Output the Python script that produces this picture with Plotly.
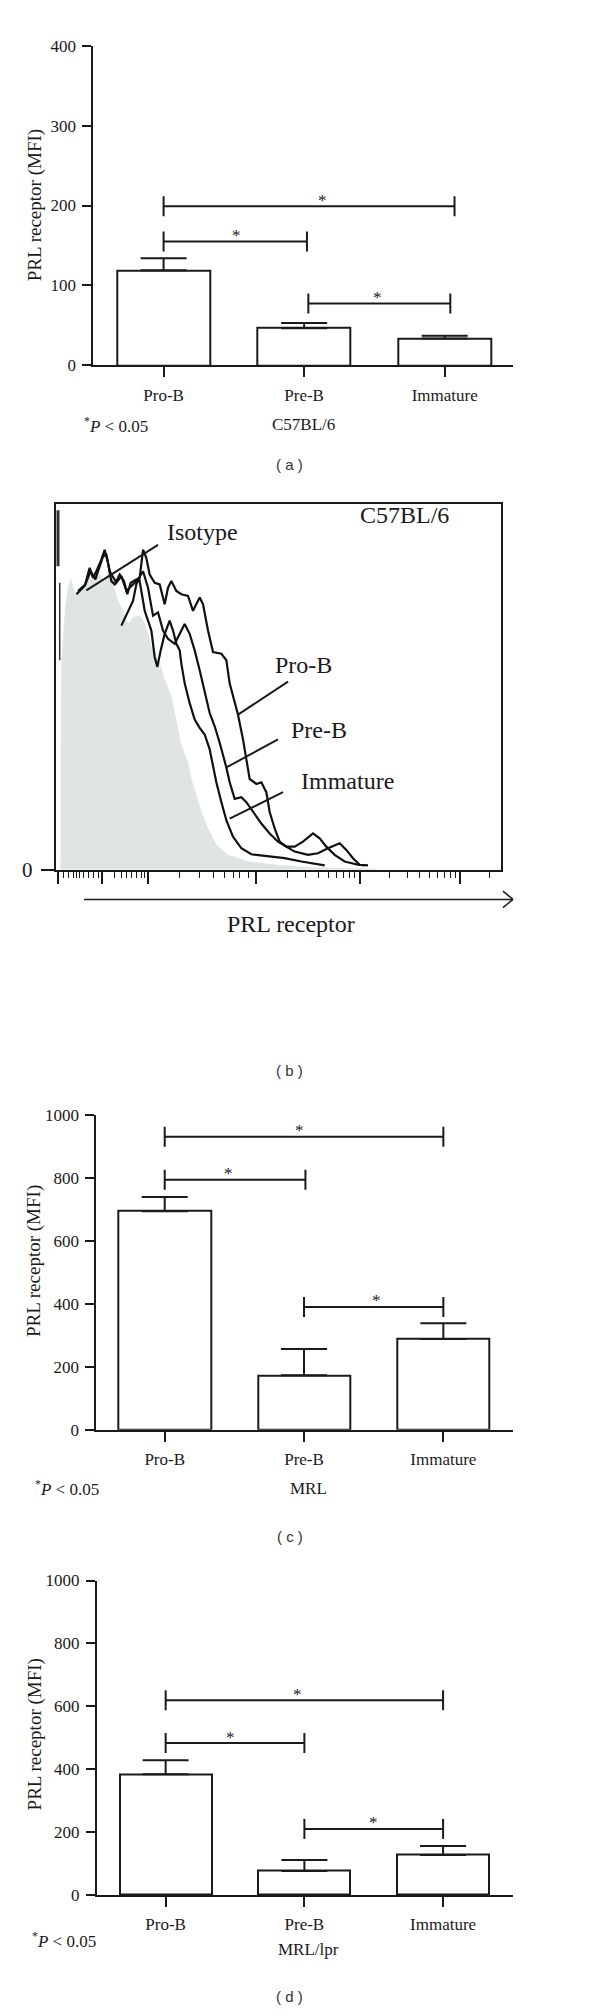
import plotly.graph_objects as go

W, H = 600, 2016
INK = "#1a1a1a"
SERIF = "Liberation Serif"
SANS = "Liberation Sans"

categories = ["Pro-B", "Pre-B", "Immature"]
cat_pos = [0, 1, 2]

# ---------- (a) C57BL/6 ----------
c57_mean = [119, 46.5, 33.5]
c57_err = [15, 6.5, 3.5]
c57_br_start = [0.0, 0.0, 1.03]
c57_br_end = [2.07, 1.02, 2.04]
c57_br_y = [199, 155, 77.5]
c57_star_x = [1.13, 0.52, 1.52]

# ---------- (c) MRL ----------
mrl_mean = [694, 173, 288]
mrl_err = [45, 83.5, 50]
mrl_br_start = [0.0, 0.0, 1.0]
mrl_br_end = [2.0, 1.01, 2.0]
mrl_br_y = [930, 794, 390]
mrl_star_x = [0.97, 0.46, 1.52]

# ---------- (d) MRL/lpr ----------
lpr_mean = [384, 76.5, 127]
lpr_err = [44, 34.5, 29]
lpr_br_start = [0.0, 0.0, 1.0]
lpr_br_end = [2.0, 1.0, 2.0]
lpr_br_y = [619, 483, 210]
lpr_star_x = [0.95, 0.47, 1.50]

# ---------- (b) flow histogram (channel, count) ----------
iso_x = [7, 15, 17, 22, 29, 37, 45, 52, 62, 72, 87, 102, 117, 132, 147, 162, 177, 187, 202,
         217, 232, 247, 257, 267, 277, 287, 312, 327, 347, 357, 367, 377, 397, 407, 422, 437,
         457, 482, 517, 577, 657, 757, 857, 957, 967]
iso_y = [0, 0, 625, 705, 795, 855, 880, 855, 830, 845, 855, 885, 880, 895, 870, 925, 845, 815, 785,
         745, 765, 770, 765, 745, 715, 675, 625, 575, 525, 475, 425, 375, 325, 275, 225, 175,
         125, 75, 45, 25, 15, 7, 5, 3, 0]

prob_x = [62, 87, 102, 112, 122, 137, 147, 157, 167, 177, 192, 205, 215, 225, 242, 252, 262, 272,
          282, 297, 312, 327, 337, 347, 362, 377, 397, 412, 432, 442, 457, 472, 497, 512, 522, 537,
          547, 562, 572, 582, 602, 617, 632, 642, 657, 672, 692, 717, 757, 787, 817, 852, 872, 892,
          912, 937]
prob_y = [835, 860, 915, 885, 905, 940, 970, 930, 875, 865, 895, 875, 835, 870, 880, 885, 970, 945,
          895, 870, 865, 805, 855, 875, 845, 835, 830, 785, 825, 805, 725, 660, 655, 635, 565, 505,
          470, 395, 335, 275, 260, 265, 235, 175, 125, 85, 70, 55, 45, 50, 65, 80, 60, 35,
          15, 13]

preb_x = [67, 89, 105, 119, 142, 152, 162, 182, 197, 212, 232, 247, 262, 277, 292, 307, 322, 337,
          357, 372, 387, 402, 417, 432, 447, 462, 477, 492, 512, 522, 537, 557, 572, 592, 617, 642,
          667, 692, 717, 742, 772, 792, 812, 837, 867, 907, 927]
preb_y = [845, 865, 905, 880, 950, 955, 905, 870, 890, 845, 865, 880, 905, 855, 770, 780, 725, 700,
          685, 715, 745, 715, 665, 605, 535, 475, 435, 385, 310, 265, 215, 220, 205, 175, 140, 110,
          85, 70, 70, 85, 110, 95, 70, 45, 25, 15, 13]

imm_x = [197, 217, 232, 242, 250, 257, 267, 277, 287, 297, 305, 315, 327, 342, 352, 362, 372, 377,
         387, 402, 417, 432, 447, 462, 472, 482, 497, 512, 532, 557, 587, 637, 687, 737, 787, 807]
imm_y = [740, 780, 815, 865, 885, 845, 785, 755, 725, 645, 615, 665, 715, 755, 725, 685, 665, 625,
         565, 505, 455, 430, 410, 365, 315, 265, 205, 150, 100, 65, 47, 40, 35, 25, 15, 13]

edge_x = [7, 7]
edge_y = [1090, 920]
edge2_x = [12, 12]
edge2_y = [870, 635]

hist_major_ticks = [7, 140, 277, 602, 912, 1212]
hist_minor_ticks = [22, 37, 52, 62, 72, 82, 97, 112, 127, 177, 197, 212, 227, 242, 257, 267,
                    372, 432, 472, 507, 532, 552, 577, 695, 750, 789, 819, 843, 864, 882, 898,
                    1002, 1057, 1092, 1122, 1145, 1166, 1184, 1200, 1302]

hist_labels = ["Isotype", "Pro-B", "Pre-B", "Immature"]
hist_label_x = [327, 652, 700, 730]
hist_label_y = [1025, 620, 425, 270]
ptr_x0 = [92, 547, 512, 522]
ptr_y0 = [847, 470, 310, 155]
ptr_x1 = [307, 697, 667, 682]
ptr_y1 = [985, 570, 395, 235]


def px(v):
    return v / W


def py(v):
    return 1 - v / H


def note(x, y, text, font, **kw):
    d = dict(xref="paper", yref="paper", x=px(x), y=py(y), text=text, showarrow=False,
             xanchor="center", yanchor="middle", font=font)
    d.update(kw)
    return d


fig = go.Figure()
shapes = []
annotations = []

TICKF = dict(family=SERIF, size=17, color=INK)

bar_panels = [
    dict(ax="", mean=c57_mean, err=c57_err, bs=c57_br_start, be=c57_br_end, by=c57_br_y,
         sx=c57_star_x, xd=[85.3, 505], yd=[352, 29], yr=[0, 400], yt=[0, 100, 200, 300, 400],
         xr=[-0.5, 2.486], title_y=190.5, pnote_x=74, pnote_y=412, strain="C57BL/6",
         strain_x=295, strain_y=412, letter="( a )", letter_y=452),
    dict(ax="3", mean=mrl_mean, err=mrl_err, bs=mrl_br_start, be=mrl_br_end, by=mrl_br_y,
         sx=mrl_star_x, xd=[88.3, 505], yd=[1427.7, 1109.3], yr=[0, 1000],
         yt=[0, 200, 400, 600, 800, 1000], xr=[-0.491, 2.5], title_y=1257.5, pnote_x=25,
         pnote_y=1486.7, strain="MRL", strain_x=300, strain_y=1486.7, letter="( c )",
         letter_y=1535),
    dict(ax="4", mean=lpr_mean, err=lpr_err, bs=lpr_br_start, be=lpr_br_end, by=lpr_br_y,
         sx=lpr_star_x, xd=[89, 505], yd=[1897.7, 1580], yr=[0, 1000],
         yt=[0, 200, 400, 600, 800, 1000], xr=[-0.495, 2.504], title_y=1735.8, pnote_x=21.7,
         pnote_y=1943.3, strain="MRL/lpr", strain_x=300, strain_y=1953.3, letter="( d )",
         letter_y=2000),
]

for p in bar_panels:
    xa = "x" + p["ax"]
    ya = "y" + p["ax"]
    fig.add_trace(go.Bar(
        x=cat_pos, y=p["mean"], width=0.662, xaxis=xa, yaxis=ya,
        marker=dict(color="white", line=dict(color=INK, width=2)),
        error_y=dict(type="data", array=p["err"], arrayminus=[0, 0, 0], symmetric=False,
                     width=23, thickness=2, color=INK),
        hoverinfo="skip"))
    axis_common = dict(showline=True, linewidth=2, linecolor=INK, ticks="outside",
                       tickwidth=2, tickcolor=INK, showgrid=False, zeroline=False,
                       tickfont=TICKF, fixedrange=True)
    fig.update_layout(**{
        "xaxis" + p["ax"]: dict(domain=[px(p["xd"][0]), px(p["xd"][1])], range=p["xr"],
                                tickmode="array", tickvals=cat_pos, ticktext=categories,
                                anchor=ya, ticklen=10, ticklabelstandoff=3, **axis_common),
        "yaxis" + p["ax"]: dict(domain=[py(p["yd"][0]), py(p["yd"][1])], range=p["yr"],
                                tickmode="array", tickvals=p["yt"], anchor=xa, ticklen=9,
                                ticklabelstandoff=3, **axis_common),
    })
    for s, e, yv, sx in zip(p["bs"], p["be"], p["by"], p["sx"]):
        shapes.append(dict(type="line", xref=xa, yref=ya, x0=s, x1=e, y0=yv, y1=yv,
                           line=dict(color=INK, width=2)))
        for xe in (s, e):
            shapes.append(dict(type="line", xref=xa, yref=ya, x0=xe, x1=xe,
                               ysizemode="pixel", yanchor=yv, y0=-10, y1=10,
                               line=dict(color=INK, width=2)))
        annotations.append(dict(xref=xa, yref=ya, x=sx, y=yv, text="*", showarrow=False,
                                xanchor="center", yanchor="middle", yshift=6,
                                font=dict(family=SERIF, size=17, color=INK)))
    annotations.append(note(26.7, p["title_y"], "PRL receptor (MFI)",
                            dict(family=SERIF, size=19, color=INK), textangle=-90))
    annotations.append(note(p["pnote_x"], p["pnote_y"], "<sup>*</sup><i>P</i> < 0.05",
                            TICKF, xanchor="left"))
    annotations.append(note(p["strain_x"], p["strain_y"], p["strain"], TICKF))
    annotations.append(note(281.7, p["letter_y"], p["letter"],
                            dict(family=SANS, size=15, color="#333333")))

# ---------- panel (b) ----------
fig.add_trace(go.Scatter(x=iso_x, y=iso_y, mode="lines", fill="tozeroy", fillcolor="#dfe4e4",
                         line=dict(color="#dfe4e4", width=0.5), xaxis="x2", yaxis="y2",
                         hoverinfo="skip"))
for cx, cy in ((imm_x, imm_y), (preb_x, preb_y), (prob_x, prob_y)):
    fig.add_trace(go.Scatter(x=cx, y=cy, mode="lines", line=dict(color="#111111", width=2.2),
                             xaxis="x2", yaxis="y2", hoverinfo="skip"))
fig.add_trace(go.Scatter(x=edge_x, y=edge_y, mode="lines", line=dict(color="#333333", width=3),
                         xaxis="x2", yaxis="y2", hoverinfo="skip"))
fig.add_trace(go.Scatter(x=edge2_x, y=edge2_y, mode="lines", line=dict(color="#333333", width=1.5),
                         xaxis="x2", yaxis="y2", hoverinfo="skip"))

fig.update_layout(
    xaxis2=dict(domain=[px(47.7), px(493.3)], range=[0, 1337], anchor="y2", showline=True,
                mirror=True, linewidth=2, linecolor=INK, showgrid=False, zeroline=False,
                tickmode="array", tickvals=hist_major_ticks, showticklabels=False,
                ticks="outside", ticklen=12, tickwidth=1.5, tickcolor=INK,
                minor=dict(tickmode="array", tickvals=hist_minor_ticks, ticks="outside",
                           ticklen=6, tickwidth=1.2, tickcolor=INK, showgrid=False),
                fixedrange=True),
    yaxis2=dict(domain=[py(861.7), py(491.7)], range=[0, 1110], anchor="x2", showline=True,
                mirror=True, linewidth=2, linecolor=INK, showgrid=False, zeroline=False,
                tickmode="array", tickvals=[0], ticktext=["0"], ticks="outside", ticklen=13,
                tickwidth=2, tickcolor=INK, ticklabelstandoff=4,
                tickfont=dict(family=SERIF, size=21, color=INK), fixedrange=True),
)

for t, tx, ty, x0, y0, x1, y1 in zip(hist_labels, hist_label_x, hist_label_y,
                                     ptr_x0, ptr_y0, ptr_x1, ptr_y1):
    annotations.append(dict(xref="x2", yref="y2", x=tx, y=ty, text=t, xanchor="left",
                            yanchor="middle", showarrow=False,
                            font=dict(family=SERIF, size=24, color=INK)))
    shapes.append(dict(type="line", xref="x2", yref="y2", x0=x0, y0=y0, x1=x1, y1=y1,
                       line=dict(color=INK, width=2)))
annotations.append(dict(xref="x2", yref="y2", x=907, y=1075, text="C57BL/6", xanchor="left",
                        yanchor="middle", showarrow=False,
                        font=dict(family=SERIF, size=24, color=INK)))

# arrow under histogram
shapes.append(dict(type="line", xref="paper", yref="paper", x0=px(76), x1=px(505),
                   y0=py(891.7), y1=py(891.7), line=dict(color=INK, width=1.5)))
shapes.append(dict(type="line", xref="paper", yref="paper", x0=px(495), x1=px(505),
                   y0=py(883.4), y1=py(891.7), line=dict(color=INK, width=1.5)))
shapes.append(dict(type="line", xref="paper", yref="paper", x0=px(495), x1=px(505),
                   y0=py(900), y1=py(891.7), line=dict(color=INK, width=1.5)))
annotations.append(note(282.7, 916.7, "PRL receptor", dict(family=SERIF, size=24, color=INK)))
annotations.append(note(281.7, 1065, "( b )", dict(family=SANS, size=15, color="#333333")))

fig.update_layout(width=W, height=H, margin=dict(l=0, r=0, t=0, b=0), showlegend=False,
                  paper_bgcolor="white", plot_bgcolor="white", bargap=0,
                  shapes=shapes, annotations=annotations)

fig.write_html("out.html")
